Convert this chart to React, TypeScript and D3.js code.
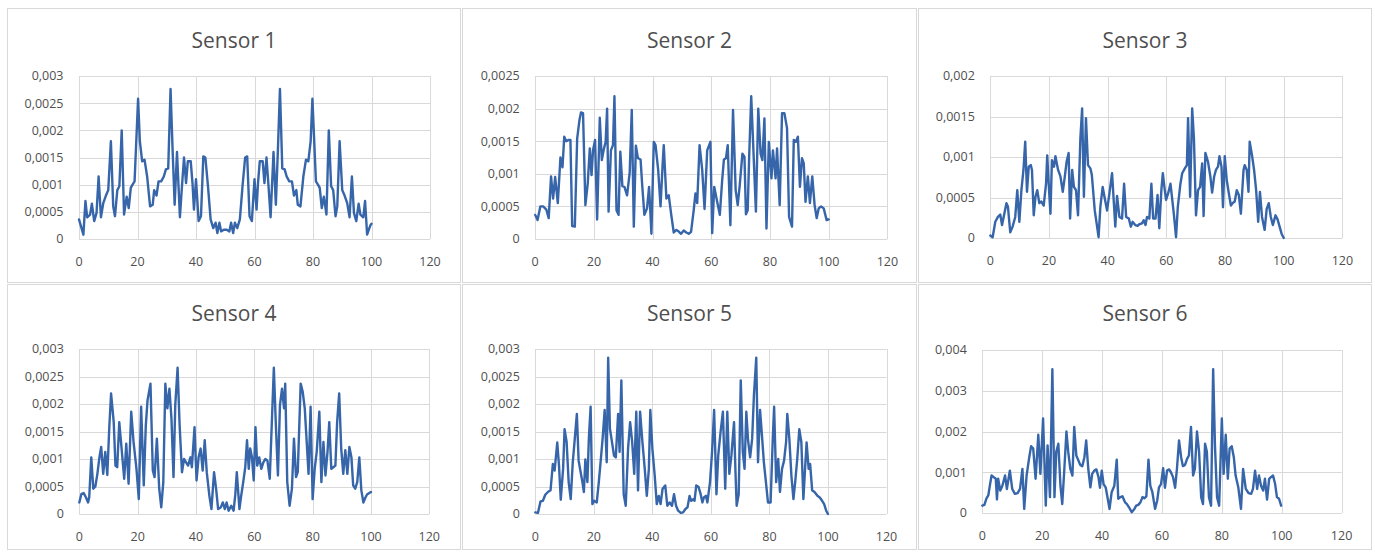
import React from 'react';
import * as d3 from 'd3';

type Pt = [number, number];

const sensor1: Pt[] = [[0,0.00036],[1.5,0.00008],[2.2,0.0007],[2.8,0.0004],[3.8,0.00045],[4.4,0.00065],[5.2,0.00033],[6,0.00048],[6.7,0.00115],[7.5,0.0004],[8.3,0.00066],[9.2,0.0008],[10,0.0009],[10.9,0.0018],[11.7,0.0006],[12.3,0.00042],[13.1,0.0009],[13.8,0.00097],[14.6,0.002],[15.4,0.00045],[16.3,0.00078],[17,0.00057],[17.7,0.00094],[18.3,0.001],[19,0.00106],[20.2,0.00258],[20.8,0.0018],[21.6,0.00143],[22.4,0.00146],[23.3,0.00115],[24.3,0.0006],[25.2,0.00063],[25.7,0.0009],[26.5,0.0008],[27.2,0.00106],[28.1,0.00106],[29,0.00115],[29.7,0.00128],[30.5,0.0013],[31.3,0.00276],[32,0.00164],[32.7,0.00063],[33.5,0.0016],[34.5,0.0004],[35.2,0.00097],[35.9,0.0015],[36.6,0.00103],[37.2,0.00143],[38.2,0.00143],[38.8,0.00103],[39.3,0.00054],[40,0.0011],[40.9,0.00033],[41.7,0.00042],[42.5,0.00152],[43.2,0.0015],[44.1,0.00097],[45,0.00036],[45.9,0.0002],[46.7,0.0003],[47.3,0.00011],[48,0.0003],[48.6,0.00014],[49.5,0.00017],[50.5,0.00017],[51.4,0.00014],[52,0.0003],[52.7,0.00011],[53.3,0.0003],[54.1,0.0002],[55,0.00036],[55.9,0.00097],[56.8,0.0015],[57.5,0.00152],[58.3,0.00042],[59.1,0.00033],[60,0.0011],[60.7,0.00054],[61.2,0.00103],[61.8,0.00143],[62.8,0.00143],[63.4,0.00103],[64.1,0.0015],[64.8,0.00097],[65.5,0.0004],[66.5,0.0016],[67.3,0.00063],[68,0.00164],[68.7,0.00276],[69.5,0.0013],[70.3,0.00128],[71,0.00115],[71.9,0.00106],[72.8,0.00106],[73.5,0.0008],[74.3,0.0009],[74.8,0.00063],[75.7,0.0006],[76.7,0.00115],[77.6,0.00146],[78.4,0.00143],[79.2,0.0018],[79.8,0.00258],[81,0.00106],[81.7,0.001],[82.3,0.00094],[83,0.00057],[83.7,0.00078],[84.6,0.00045],[85.4,0.002],[86.2,0.00097],[86.9,0.0009],[87.7,0.00042],[88.3,0.0006],[89.1,0.0018],[90,0.0009],[90.8,0.0008],[91.7,0.00066],[92.5,0.0004],[93.3,0.00115],[94,0.00048],[94.8,0.00033],[95.6,0.00065],[96.2,0.00045],[97.2,0.0004],[97.8,0.0007],[98.5,0.00008],[99.6,0.00025],[100,0.00028]];

const sensor2: Pt[] = [[0,0.00037],[0.8,0.00029],[1.75,0.0005],[2.7,0.0005],[3.8,0.00045],[4.6,0.00032],[5.4,0.00096],[6.1,0.00062],[6.8,0.00095],[7.7,0.00055],[8.6,0.00125],[9.3,0.0011],[9.9,0.00157],[10.6,0.0015],[11.3,0.00152],[12,0.00152],[12.6,0.0002],[13.5,0.00019],[14.3,0.00154],[15.1,0.00183],[15.6,0.00194],[16.3,0.00193],[17.1,0.00052],[17.9,0.00085],[18.6,0.00139],[19.2,0.00098],[19.7,0.00136],[20.4,0.00152],[21.1,0.0003],[22,0.00186],[22.7,0.00121],[23.3,0.00136],[24,0.00149],[24.5,0.002],[25,0.00042],[25.8,0.00136],[26.5,0.00144],[27,0.00219],[27.7,0.00044],[28.4,0.00037],[29,0.00134],[29.7,0.00081],[30.4,0.0008],[31.3,0.00067],[32.2,0.00102],[32.9,0.00198],[33.6,0.00019],[34.3,0.00143],[35,0.00124],[35.9,0.00122],[36.5,0.0008],[37.2,0.00037],[38.1,0.00047],[38.8,0.0008],[39.6,0.00008],[40.4,0.00149],[41,0.00144],[41.9,0.00106],[42.7,0.0005],[43.4,0.00113],[43.8,0.00144],[44.7,0.00062],[45.5,0.00067],[46.3,0.00039],[47.2,0.0001],[48.1,0.00014],[49,0.00011],[49.7,0.00008],[50.6,0.00013],[51.5,0.0001],[52.3,0.00008],[53.1,0.00011],[54,0.00044],[54.6,0.0007],[55.2,0.00055],[56,0.00144],[56.9,0.00106],[57.7,0.00046],[58.6,0.00136],[59.7,0.00149],[60.3,0.00009],[61,0.0008],[62,0.00057],[62.9,0.00037],[63.7,0.0009],[64.3,0.00122],[65,0.00124],[65.6,0.00144],[66.5,0.00021],[67.4,0.00198],[68.3,0.00075],[69,0.00052],[69.7,0.00083],[70.6,0.00131],[71.3,0.00126],[71.8,0.00038],[72.4,0.00044],[72.9,0.00126],[73.6,0.00219],[74.5,0.00119],[75.2,0.00042],[76,0.002],[76.8,0.00131],[77.4,0.00121],[78.1,0.00185],[78.8,0.00016],[79.6,0.00149],[80.5,0.00093],[81,0.00136],[81.9,0.00093],[82.4,0.00139],[83.3,0.00052],[84.1,0.00193],[84.9,0.00193],[85.8,0.0017],[86.5,0.00034],[87.5,0.00019],[88.1,0.00152],[88.8,0.00149],[89.5,0.00157],[90.2,0.0008],[90.9,0.00124],[91.5,0.00116],[92.1,0.00057],[92.9,0.00096],[93.6,0.00055],[94.4,0.00096],[95.2,0.00052],[95.9,0.00032],[96.6,0.00047],[97.4,0.0005],[98.3,0.00047],[99.3,0.00029],[100,0.0003]];

const sensor3: Pt[] = [[0,0.00003],[0.8,0.00001],[1.7,0.0002],[2.6,0.00026],[3.4,0.00029],[4,0.00016],[4.9,0.00032],[5.5,0.00043],[6,0.00039],[6.8,0.00007],[7.6,0.00014],[8.5,0.00026],[9.2,0.00059],[9.9,0.0002],[10.6,0.00059],[11.3,0.00084],[11.9,0.00119],[12.5,0.00057],[13.1,0.00088],[13.8,0.0009],[14.2,0.00084],[14.8,0.00028],[15.4,0.00051],[16,0.00059],[16.7,0.00043],[17.4,0.00045],[18.2,0.0004],[19,0.00067],[19.4,0.00102],[19.9,0.00067],[20.5,0.0003],[21,0.00096],[21.7,0.00088],[22.2,0.00101],[23.1,0.00084],[23.9,0.00076],[24.7,0.00057],[25.4,0.00076],[26,0.00094],[26.7,0.00105],[27.2,0.00024],[27.9,0.00084],[28.5,0.00063],[29.2,0.00059],[29.9,0.00028],[30.7,0.00123],[31.3,0.0016],[31.9,0.00051],[32.6,0.00148],[33.3,0.0009],[34.1,0.00086],[34.6,0.00078],[35.6,0.00034],[36.4,0.00014],[36.9,0.00001],[37.5,0.00038],[38.3,0.00063],[39,0.00049],[39.8,0.00034],[40.6,0.00055],[41.5,0.0008],[42.2,0.00038],[42.6,0.00014],[43.2,0.00052],[44,0.00026],[44.9,0.00024],[45.6,0.00067],[46.3,0.00026],[47.2,0.00024],[47.9,0.00014],[48.5,0.0002],[49.4,0.00016],[50.2,0.00015],[50.8,0.00017],[51.7,0.00018],[52.3,0.00022],[52.9,0.00016],[53.4,0.00026],[54.2,0.00024],[54.9,0.00067],[55.5,0.00024],[56.3,0.00024],[57,0.00053],[57.6,0.00012],[58.3,0.00059],[58.8,0.0008],[59.4,0.00061],[59.9,0.00047],[60.6,0.00055],[61.4,0.00067],[61.9,0.00051],[62.6,0.00028],[63.3,0.00001],[63.9,0.00038],[64.8,0.00067],[65.4,0.0008],[66.3,0.00086],[67,0.0009],[67.4,0.00148],[68.1,0.00051],[68.8,0.0016],[69.4,0.00123],[70.1,0.00028],[70.8,0.00059],[71.5,0.00063],[72.2,0.00092],[72.7,0.00027],[73.3,0.00105],[74.2,0.00094],[75,0.00076],[75.6,0.00056],[76.3,0.00076],[76.9,0.00084],[77.6,0.00088],[78.1,0.00101],[78.8,0.00088],[79.3,0.00038],[79.9,0.00101],[80.6,0.00071],[81.3,0.00055],[82,0.0004],[82.6,0.00043],[83.3,0.00045],[84,0.00059],[84.7,0.00053],[85.4,0.0003],[86.3,0.00084],[86.7,0.0009],[87.4,0.00084],[88,0.00057],[88.4,0.00119],[89.2,0.00102],[89.9,0.00084],[90.6,0.00059],[91.3,0.0002],[91.9,0.00057],[92.6,0.00026],[93.5,0.0001],[94.2,0.00036],[94.9,0.00043],[95.6,0.00026],[96.3,0.00016],[97.2,0.00028],[97.9,0.00023],[98.6,0.00014],[99.3,0.00005],[100,0]];

const sensor4: Pt[] = [[0,0.00021],[0.7,0.00036],[1.5,0.00038],[2.3,0.0003],[3,0.00021],[3.4,0.0003],[4.1,0.00103],[4.8,0.00046],[5.5,0.0005],[6.2,0.00073],[6.9,0.00103],[7.5,0.00122],[8.2,0.00073],[8.9,0.00113],[9.6,0.00071],[10.3,0.0016],[10.9,0.00219],[11.8,0.00167],[12.4,0.00088],[13,0.00085],[13.7,0.00167],[14.6,0.00113],[15.4,0.00064],[16.1,0.00128],[16.9,0.00055],[17.8,0.00186],[18.6,0.00131],[19.6,0.00082],[20.4,0.00027],[21.2,0.00195],[22.1,0.00052],[22.8,0.00161],[23.4,0.00207],[24.4,0.00237],[25.2,0.00079],[25.8,0.00067],[26.6,0.00137],[27.4,0.00046],[28.1,0.00012],[28.8,0.00058],[29.5,0.00237],[30.2,0.00192],[30.9,0.00228],[31.6,0.00173],[32.3,0.00067],[32.9,0.00198],[33.7,0.00266],[34.4,0.00161],[35.2,0.00076],[35.9,0.001],[36.6,0.00094],[37.3,0.00088],[38.1,0.00103],[38.6,0.00085],[39.5,0.00158],[40.2,0.00061],[40.9,0.00103],[41.6,0.00119],[42.3,0.00079],[43,0.00134],[43.7,0.00076],[44.6,0.00033],[45.3,0.00009],[46.2,0.00076],[46.9,0.00046],[47.6,0.00009],[48.5,0.00012],[49.2,0.00021],[49.9,0.00009],[50.5,0.00021],[51.2,0.00006],[52.1,0.00015],[52.9,0.00006],[53.5,0.00036],[54,0.00076],[54.9,0.00009],[55.5,0.00033],[56.2,0.00058],[56.9,0.00085],[57.5,0.00134],[58.1,0.00082],[58.6,0.00119],[59.2,0.00103],[59.8,0.00061],[60.4,0.00158],[61,0.00088],[61.7,0.00103],[62.4,0.00082],[63.1,0.00094],[63.8,0.001],[64.5,0.00097],[65.3,0.00064],[66.1,0.00179],[66.7,0.00266],[67.4,0.00161],[68.1,0.0007],[68.8,0.00198],[69.5,0.00228],[70.2,0.00192],[70.6,0.00237],[71.3,0.00058],[72.1,0.00015],[72.9,0.00046],[73.6,0.00137],[74.3,0.00067],[74.9,0.00076],[75.9,0.00237],[76.6,0.00222],[77.3,0.00192],[77.9,0.00137],[78.6,0.00073],[79.3,0.00195],[80,0.00027],[80.7,0.00082],[81.4,0.00113],[82.3,0.00186],[83,0.00058],[83.7,0.00131],[84.4,0.0007],[85.1,0.00113],[85.7,0.00167],[86.4,0.00082],[87.1,0.00085],[87.8,0.00088],[88.4,0.00167],[89.1,0.00219],[89.8,0.00119],[90.5,0.00073],[91.2,0.00116],[91.9,0.00073],[92.6,0.00122],[93.3,0.00103],[93.9,0.00052],[94.6,0.00046],[95.3,0.00058],[96,0.00103],[96.7,0.00043],[97.4,0.00021],[98.1,0.0003],[98.7,0.00036],[99.4,0.00038],[100,0.0004]];

const sensor5: Pt[] = [[0,0.00003],[0.9,0.00002],[1.8,0.00023],[2.6,0.00024],[3.4,0.00035],[4.3,0.0004],[5.2,0.00043],[6,0.00091],[6.6,0.00079],[7.5,0.0013],[8.1,0.00088],[8.7,0.00026],[9.5,0.00082],[10,0.00154],[10.7,0.00131],[11.4,0.00058],[12.1,0.00027],[12.8,0.00094],[13.4,0.00131],[14.2,0.00182],[14.8,0.00097],[15.5,0.00076],[16.1,0.00058],[16.6,0.0004],[17.1,0.00099],[17.8,0.00058],[18.3,0.00137],[18.9,0.00195],[19.5,0.00018],[20.1,0.00024],[21,0.00021],[21.7,0.00058],[22.3,0.00094],[23,0.00137],[23.7,0.00189],[24.4,0.00094],[24.9,0.00284],[25.5,0.00155],[26.2,0.00131],[26.9,0.00106],[27.5,0.00103],[28.3,0.00182],[28.8,0.00113],[29.4,0.00243],[30.2,0.00036],[30.9,0.00015],[31.7,0.00119],[32.4,0.00167],[33.1,0.00131],[33.8,0.00073],[34.5,0.00186],[35.1,0.00043],[35.8,0.00186],[36.6,0.00131],[37.4,0.00082],[38.1,0.00033],[38.8,0.00082],[39.3,0.00189],[40,0.00119],[40.8,0.0007],[41.5,0.00018],[42.2,0.00033],[42.8,0.00018],[43.5,0.00046],[44.4,0.00052],[45.1,0.00015],[45.9,0.00021],[46.7,0.00015],[47.4,0.00036],[48.1,0.00015],[48.8,0.00006],[49.7,0.00002],[50.5,0.00003],[51.3,0.00009],[52,0.00012],[52.7,0.00033],[53.3,0.00024],[54,0.00027],[54.4,0.00024],[55,0.00052],[55.8,0.00049],[56.5,0.00036],[57.1,0.00021],[57.6,0.0003],[58.3,0.00033],[58.8,0.00021],[59.7,0.00058],[60.4,0.00113],[61.1,0.00189],[61.9,0.00036],[62.5,0.00106],[63.3,0.00149],[64.1,0.00186],[64.9,0.00046],[65.6,0.00186],[66.3,0.00073],[67,0.00106],[67.9,0.00167],[68.4,0.00076],[68.8,0.00015],[69.5,0.00036],[70.2,0.00243],[70.9,0.00113],[71.5,0.00082],[72.1,0.00186],[72.7,0.00134],[73.4,0.00103],[74.1,0.00137],[74.7,0.00216],[75.5,0.00284],[76.1,0.00094],[76.8,0.00189],[77.4,0.00146],[78.1,0.00094],[78.8,0.00058],[79.5,0.00021],[80.4,0.00021],[81.1,0.00131],[81.6,0.00195],[82.3,0.00058],[83,0.001],[83.6,0.0004],[84.3,0.00082],[85,0.00097],[85.7,0.00131],[86.1,0.00182],[86.8,0.00137],[87.5,0.0007],[88.2,0.00027],[88.8,0.00058],[89.5,0.001],[90.2,0.00154],[90.9,0.00131],[91.6,0.00027],[92.3,0.00094],[92.7,0.0013],[93.4,0.00082],[93.9,0.00091],[94.6,0.00043],[95.4,0.0004],[96.4,0.00033],[97.2,0.0003],[98,0.00024],[98.7,0.00018],[99.4,0.00006],[100,0]];

const sensor6: Pt[] = [[0,0.00018],[0.7,0.0002],[1.4,0.00036],[2,0.00043],[2.6,0.00071],[3.1,0.00092],[3.8,0.00088],[4.5,0.00084],[4.9,0.00033],[5.3,0.00084],[6,0.00055],[6.7,0.00067],[7.6,0.00092],[8.2,0.00059],[9.2,0.00104],[10,0.00059],[10.9,0.00047],[11.8,0.00049],[12.6,0.00059],[13.4,0.00108],[14,0.0001],[14.8,0.00092],[15.6,0.00133],[16.3,0.00164],[17,0.00158],[17.8,0.00084],[18.7,0.00192],[19.4,0.00096],[20.3,0.00232],[21.2,0.00018],[21.8,0.00166],[22.6,0.00039],[23.4,0.00353],[24.1,0.00039],[24.7,0.0015],[25.4,0.0017],[26.1,0.00067],[26.7,0.00022],[27.4,0.00108],[28.1,0.002],[28.7,0.0015],[29.4,0.00108],[30.1,0.00092],[30.7,0.00211],[31.4,0.00141],[32.1,0.00129],[32.7,0.00118],[33.4,0.00115],[34.1,0.00137],[34.7,0.00178],[35.4,0.00108],[36.1,0.00063],[36.7,0.00096],[37.4,0.00104],[38.1,0.00107],[38.8,0.00088],[39.3,0.00062],[39.9,0.00104],[40.5,0.00071],[41.2,0.00063],[41.9,0.00035],[42.5,0.0001],[43.2,0.00051],[44.1,0.00067],[44.9,0.00131],[45.4,0.00035],[46.1,0.00039],[46.8,0.00041],[47.7,0.00026],[48.3,0.00022],[49,0.00014],[49.9,0.00002],[50.8,0.0001],[51.4,0.00018],[52.1,0.0002],[52.8,0.00026],[53.5,0.00039],[54.1,0.00036],[54.8,0.00041],[55.5,0.00131],[56.1,0.00067],[56.8,0.00051],[57.7,0.0001],[58.4,0.0003],[59,0.00063],[59.7,0.00071],[60.4,0.0011],[61,0.00062],[61.7,0.00104],[62.4,0.00107],[63,0.001],[63.7,0.00088],[64.4,0.00062],[65,0.00108],[65.7,0.00178],[66.4,0.00137],[67,0.00115],[67.7,0.00118],[68.4,0.00133],[69,0.00141],[69.7,0.00211],[70.4,0.00092],[71,0.00108],[71.7,0.002],[72.4,0.0015],[73.1,0.00039],[73.7,0.00022],[74.4,0.0017],[75,0.0015],[75.7,0.00039],[76.4,0.00018],[77.1,0.00353],[77.7,0.00166],[78.4,0.00039],[79.1,0.00018],[80,0.00232],[80.6,0.00096],[81.3,0.00192],[82,0.00084],[82.6,0.00158],[83.3,0.00164],[84,0.00137],[84.6,0.00092],[85.5,0.00063],[86.4,0.0001],[87.1,0.00108],[88,0.00059],[88.9,0.00049],[89.8,0.00047],[90.4,0.00059],[91.1,0.00104],[91.8,0.00059],[92.4,0.00092],[93.1,0.00067],[93.8,0.00055],[94.4,0.00084],[95.1,0.00033],[95.8,0.00084],[96.4,0.00088],[97.1,0.00092],[97.8,0.00071],[98.4,0.00039],[99.1,0.00035],[99.8,0.00018]];

const titles = ['Sensor 1', 'Sensor 2', 'Sensor 3', 'Sensor 4', 'Sensor 5', 'Sensor 6'];
const seriesList = [sensor1, sensor2, sensor3, sensor4, sensor5, sensor6];
const yMaxes = [0.003, 0.0025, 0.002, 0.003, 0.003, 0.004];
const ySteps = [0.0005, 0.0005, 0.0005, 0.0005, 0.0005, 0.001];
const xTicks = [0, 20, 40, 60, 80, 100, 120];

// layout (pixels): panel box and plot area
const panelLayout = [
  { box: [7.5, 8.5, 453, 274], plot: [79, 76, 430, 239], titleY: 47.5 },
  { box: [462.5, 8.5, 454, 274], plot: [535.2, 76, 887.4, 239], titleY: 47.5 },
  { box: [918.5, 8.5, 453, 274], plot: [990.3, 76, 1342.4, 238], titleY: 47.5 },
  { box: [7.5, 284.5, 453, 265], plot: [79.3, 349, 429.3, 514], titleY: 320.5 },
  { box: [462.5, 284.5, 454, 265], plot: [535.3, 349, 886.5, 514], titleY: 320.5 },
  { box: [918.5, 284.5, 453, 265], plot: [982.3, 350, 1341.6, 513], titleY: 320.5 },
];

const LINE_COLOR = '#3665AA';
const GRID = '#D9D9D9';
const TEXT = '#4F4F4F';
const FONT = '"Open Sans", "Noto Sans", sans-serif';

const locale = d3.formatLocale({ decimal: ',', thousands: '.', grouping: [3], currency: ['', ''] });
const fmt = locale.format('.4~f');

const snap = (v: number) => Math.round(v) + 0.5;

function Panel({ idx }: { idx: number }) {
  const lay = panelLayout[idx];
  const [l, t, r, b] = lay.plot;
  const x = d3.scaleLinear().domain([0, 120]).range([l, r]);
  const y = d3.scaleLinear().domain([0, yMaxes[idx]]).range([b, t]);
  const yt = d3.range(0, yMaxes[idx] + ySteps[idx] / 2, ySteps[idx]);
  const line = d3.line<Pt>().x(d => x(d[0])).y(d => y(d[1]));
  const [bx, by, bw, bh] = lay.box;
  return (
    <g>
      <rect x={bx} y={by} width={bw} height={bh} fill="#fff" stroke={GRID} strokeWidth={1} />
      <text x={bx + bw / 2} y={lay.titleY} textAnchor="middle" fontFamily={FONT} fontSize={21} fill={TEXT}>
        {titles[idx]}
      </text>
      {yt.map((v, i) => (
        <line key={'h' + i} x1={l} x2={r} y1={snap(y(v))} y2={snap(y(v))} stroke={GRID} strokeWidth={1} />
      ))}
      {xTicks.map((v, i) => (
        <line key={'v' + i} x1={snap(x(v))} x2={snap(x(v))} y1={t} y2={b} stroke={GRID} strokeWidth={1} />
      ))}
      {yt.map((v, i) => (
        <text key={'yl' + i} x={l - 15.5} y={y(v)} dy="0.35em" textAnchor="end" fontFamily={FONT} fontSize={12.5} fill={TEXT}>
          {fmt(v)}
        </text>
      ))}
      {xTicks.map((v, i) => (
        <text key={'xl' + i} x={x(v)} y={b + 27} textAnchor="middle" fontFamily={FONT} fontSize={12.5} fill={TEXT}>
          {v}
        </text>
      ))}
      <path d={line(seriesList[idx]) || ''} fill="none" stroke={LINE_COLOR} strokeWidth={2.4} strokeLinejoin="round" strokeLinecap="round" />
    </g>
  );
}

export default function App() {
  return (
    <svg width={1375} height={553} style={{ position: 'absolute', left: 0, top: 0, background: '#fff' }}>
      <rect x={0} y={0} width={1375} height={553} fill="#fff" />
      {titles.map((_, i) => (
        <Panel key={i} idx={i} />
      ))}
    </svg>
  );
}
